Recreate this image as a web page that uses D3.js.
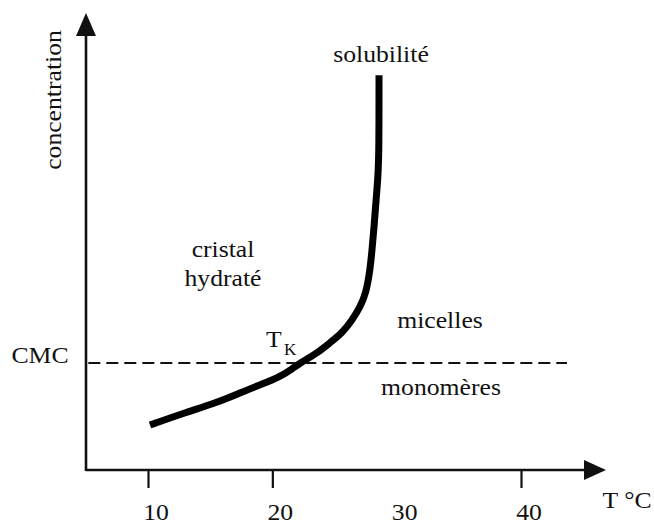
<!DOCTYPE html>
<html>
<head>
<meta charset="utf-8">
<script src="https://cdn.jsdelivr.net/npm/d3@7"></script>
<style>
  html, body { margin: 0; padding: 0; background: #fff; }
  svg text { font-family: "Liberation Serif", "DejaVu Serif", serif; fill: #111; }
</style>
</head>
<body>
<div id="chart"></div>
<script>
// Krafft point diagram: solubility curve vs temperature
const tickValues = [10, 20, 40];
const tickLabels = [10, 20, 30, 40];
const cmc = 1;
const cmcSpan = [5.2, 43.7];

// solubility curve (T in °C, concentration in CMC units)
const curveT = [10.16, 12.82, 15.55, 17.40, 18.85, 20.46, 21.67, 22.23, 23.59, 24.64,
  25.61, 26.41, 27.05, 27.53, 27.86, 28.02, 28.18, 28.34, 28.50, 28.58, 28.58];
const curveC = [0.42, 0.53, 0.63, 0.72, 0.79, 0.86, 0.95, 1.00, 1.09, 1.19,
  1.28, 1.40, 1.52, 1.65, 1.87, 2.06, 2.27, 2.52, 2.74, 2.99, 3.69];

const width = 654, height = 524;
const sx = 1.07; // the scanned lettering is a bit wide

const svg = d3.select("#chart").append("svg")
  .attr("width", width)
  .attr("height", height);

const x = d3.scaleLinear().domain([10, 40]).range([148, 521]);
const y = d3.scaleLinear().domain([0, 1]).range([470, 363]);

const axisX = 86, axisY = y(0);

function label(px, py, txt, size, anchor) {
  const g = svg.append("g")
    .attr("transform", `translate(${px},${py}) scale(${sx},1)`);
  return g.append("text")
    .attr("text-anchor", anchor || "middle")
    .style("font-size", size + "px")
    .text(txt);
}

// axes
svg.append("line")
  .attr("x1", axisX).attr("x2", 586)
  .attr("y1", axisY).attr("y2", axisY)
  .attr("stroke", "#111").attr("stroke-width", 2.6);
svg.append("path")
  .attr("d", `M584,${axisY - 10} L606,${axisY} L584,${axisY + 10} Z`)
  .attr("fill", "#111");

svg.append("line")
  .attr("x1", axisX).attr("x2", axisX)
  .attr("y1", axisY + 1).attr("y2", 34)
  .attr("stroke", "#111").attr("stroke-width", 2.6);
svg.append("path")
  .attr("d", `M${axisX - 10},36 L${axisX},13 L${axisX + 10},36 Z`)
  .attr("fill", "#111");

// tick marks via d3 axis
const xAxis = svg.append("g")
  .attr("transform", `translate(0,${axisY})`)
  .call(d3.axisBottom(x).tickValues(tickValues).tickSize(18).tickSizeOuter(0).tickFormat(""));
xAxis.select(".domain").remove();
xAxis.selectAll(".tick line").attr("stroke", "#111").attr("stroke-width", 2.2);

tickLabels.forEach(v => label(x(v) + 8, 520, v, 24));

label(627, 508, "T °C", 24);

// y label
svg.append("g")
  .attr("transform", "translate(61,100) rotate(-90) scale(" + sx + ",1)")
  .append("text")
  .attr("text-anchor", "middle")
  .style("font-size", "24px")
  .text("concentration");

// CMC dashed line
svg.append("line")
  .attr("x1", x(cmcSpan[0])).attr("x2", x(cmcSpan[1]))
  .attr("y1", y(cmc)).attr("y2", y(cmc))
  .attr("stroke", "#111")
  .attr("stroke-width", 2)
  .attr("stroke-dasharray", "12,6");

label(40, y(cmc), "CMC", 24);

// solubility curve
const line = d3.line()
  .x(d => x(d[0]))
  .y(d => y(d[1]))
  .curve(d3.curveBasis);

svg.append("path")
  .datum(d3.zip(curveT, curveC))
  .attr("d", line)
  .attr("fill", "none")
  .attr("stroke", "#000")
  .attr("stroke-width", 7)
  .attr("stroke-linejoin", "round");

// region labels
label(381, 62, "solubilité", 24);
label(223, 257, "cristal", 24);
label(223, 286, "hydraté", 24);
label(440, 328, "micelles", 24);
label(441, 395, "monomères", 24);

// Krafft temperature
label(266, 347, "T", 24, "start");
label(284, 355, "K", 16, "start");
</script>
</body>
</html>
